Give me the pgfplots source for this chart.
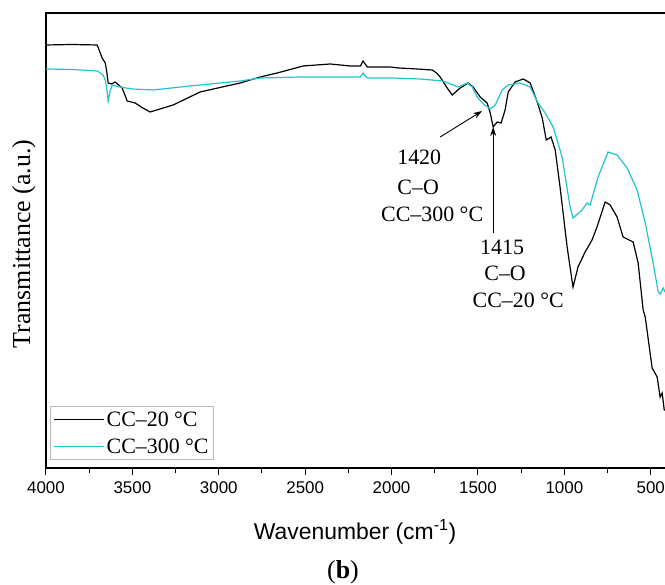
\documentclass[border=0pt]{standalone}
\usepackage{fontspec}
\setmainfont{Liberation Serif}
\newfontfamily\arialfont{Liberation Sans}
\usepackage{pgfplots}
\pgfplotsset{compat=1.18}
\usetikzlibrary{arrows.meta}
\definecolor{cccyan}{RGB}{32,196,206}
\begin{document}
\begin{tikzpicture}[x=1bp,y=1bp]
\useasboundingbox (-46,-117) rectangle (619,468);
\begin{axis}[at={(0,0)}, anchor=south west, scale only axis,
  width=621bp, height=455bp,
  x dir=reverse, xmin=406, xmax=4000, ymin=19, ymax=474,
  xtick={500,1000,...,4000}, minor x tick num=1, ytick=\empty,
  xtick pos=bottom, tick align=outside, major tick length=7bp, minor tick length=5bp,
  tick style={line width=1bp, black},
  axis line style={line width=1.2bp},
  xticklabel style={font=\arialfont\fontsize{17}{17}\selectfont, yshift=-3bp},
  /pgf/number format/assume math mode=true,
  /pgf/number format/set thousands separator={},
  legend style={at={(0.0064,0.0176)}, anchor=south west, draw=gray!55, line width=0.8bp,
    font=\fontsize{22}{24}\selectfont, inner xsep=3bp, inner ysep=3bp, row sep=7bp},
  legend cell align=left,
  legend image code/.code={\draw[#1, line width=1.3bp] (0bp,0bp) -- (50bp,0bp);},
]
\addplot[black, line width=1.2bp] coordinates {
(4000,442) (3850,442.5) (3704,442) (3675,429) (3657,424) (3648,415) (3640,404)
(3620,403) (3600,405) (3559,399) (3530,386) (3484,384) (3440,379) (3397,375)
(3264,382) (3108,395) (2980,400) (2876,404) (2760,410) (2662,414) (2512,421)
(2355,423) (2240,421) (2180,421) (2165,426) (2153,423) (2140,420) (2008,420)
(1960,419) (1852,418) (1765,417) (1740,414) (1719,410) (1678,399) (1649,392)
(1603,399) (1557,404) (1528,400) (1487,390) (1447,384) (1429,374) (1412,360)
(1389,365) (1366,364) (1343,377) (1325,395) (1285,405) (1238,408) (1198,404)
(1157,385) (1128,369) (1105,347) (1077,350) (1053,337) (1025,300) (984,240)
(950,200) (921,220) (880,235) (863,240) (840,247) (811,260) (764,285) (735,282)
(695,270) (660,250) (602,245) (573,224) (544,177) (532,170) (492,119) (463,110)
(446,90) (434,94) (422,77) (417,77)
};
\addlegendentry{CC–20 °C}
\addplot[cccyan, line width=1.2bp] coordinates {
(4000,418) (3850,417.5) (3704,416) (3670,412) (3657,407) (3648,398) (3640,386)
(3630,395) (3617,402) (3571,400) (3500,398) (3380,397) (3166,401) (2876,406)
(2760,409) (2529,410) (2355,410) (2180,410) (2165,414) (2153,411) (2140,409)
(2000,409) (1835,408) (1702,406) (1643,402) (1615,400) (1562,404) (1533,400)
(1504,390) (1469,383) (1429,378) (1400,382) (1360,397) (1325,402) (1256,404)
(1198,400) (1152,384) (1111,374) (1065,360) (1013,330) (967,280) (950,269)
(898,277) (869,284) (851,282) (805,310) (747,335) (695,332) (637,319) (579,297)
(532,264) (486,224) (457,195) (445,193) (428,199) (417,195)
};
\addlegendentry{CC–300 °C}
\node[font=\fontsize{22}{22}\selectfont] at (axis cs:1840,330) {1420};
\node[font=\fontsize{22}{22}\selectfont] at (axis cs:1846,300) {C–O};
\node[font=\fontsize{22}{22}\selectfont] at (axis cs:1765,273) {CC–300 °C};
\node[font=\fontsize{22}{22}\selectfont] at (axis cs:1360,240) {1415};
\node[font=\fontsize{22}{22}\selectfont] at (axis cs:1343,214) {C–O};
\node[font=\fontsize{22}{22}\selectfont] at (axis cs:1267,187) {CC–20 °C};
\draw[-{Stealth[length=9bp,width=6bp]}, line width=0.9bp] (axis cs:1719,350) -- (axis cs:1476,376);
\draw[-{Stealth[length=9bp,width=6bp]}, line width=0.9bp] (axis cs:1412,254) -- (axis cs:1412,360);
\end{axis}
\node[font=\arialfont\fontsize{23}{23}\selectfont] at (309,-64) {Wavenumber (cm\textsuperscript{-1})};
\node[font=\fontsize{26}{26}\selectfont] at (297,-104) {(\textbf{b})};
\node[rotate=90, font=\fontsize{26}{26}\selectfont] at (-22,224) {Transmittance (a.u.)};
\end{tikzpicture}
\end{document}
